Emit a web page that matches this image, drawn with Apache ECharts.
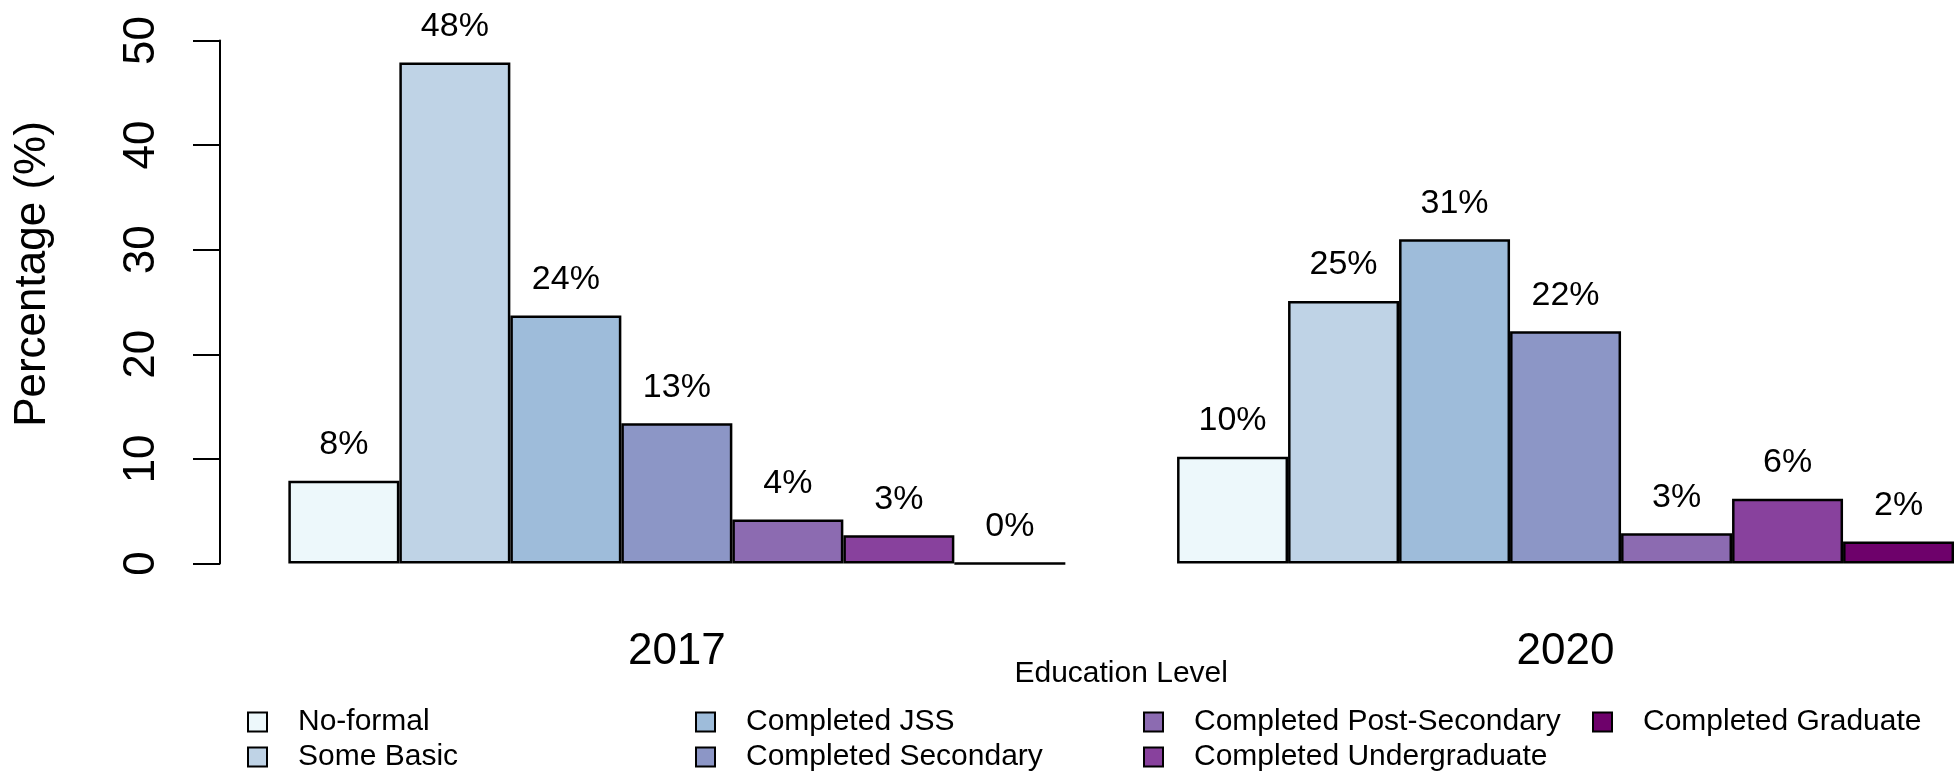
<!DOCTYPE html>
<html>
<head>
<meta charset="utf-8">
<script src="https://cdn.jsdelivr.net/npm/echarts@6/dist/echarts.min.js"></script>
<style>
html,body{margin:0;padding:0;background:#fff;}
#chart{width:1954px;height:777px;}
</style>
</head>
<body>
<div id="chart"></div>
<script>
// ---- data ----
const years = ['2017', '2020'];
const levels = ['No-formal', 'Some Basic', 'Completed JSS', 'Completed Secondary',
  'Completed Post-Secondary', 'Completed Undergraduate', 'Completed Graduate'];
const values2017 = [7.9, 47.9, 23.7, 13.4, 4.2, 2.7, 0];
const values2020 = [10.2, 25.1, 31.0, 22.2, 2.9, 6.2, 2.1];
const colors = ['#EDF8FB', '#BFD3E6', '#9EBCDA', '#8C96C6', '#8C6BB1', '#88419D', '#6E016B'];
const legendColumns = [
  ['No-formal', 'Some Basic'],
  ['Completed JSS', 'Completed Secondary'],
  ['Completed Post-Secondary', 'Completed Undergraduate'],
  ['Completed Graduate']
];
const yTitle = 'Percentage (%)';
const xTitle = 'Education Level';

const FONT = '"Liberation Sans", Arial, Helvetica, sans-serif';
const chart = echarts.init(document.getElementById('chart'), null, {renderer: 'canvas'});

const legendLefts = [247, 695, 1143, 1592];

const option = {
  backgroundColor: '#ffffff',
  animation: false,
  textStyle: {fontFamily: FONT, color: '#000'},
  grid: {left: 232.5, top: 40.5, width: 1777.4, bottom: 213.5, containLabel: false, outerBoundsMode: 'none'},
  legend: legendColumns.map((col, i) => ({
    data: col,
    orient: 'vertical',
    left: legendLefts[i],
    top: 704.5,
    height: 100,
    padding: 0,
    itemGap: 0,
    itemWidth: 19,
    itemHeight: 19,
    icon: 'rect',
    selectedMode: false,
    itemStyle: {borderColor: '#000', borderWidth: 2},
    textStyle: {fontFamily: FONT, fontSize: 30, color: '#000', lineHeight: 35, padding: [0, 0, 0, 26]}
  })),
  xAxis: {
    type: 'category',
    data: years,
    boundaryGap: true,
    name: xTitle,
    nameLocation: 'middle',
    nameGap: 95,
    nameMoveOverlap: false,
    nameTextStyle: {fontFamily: FONT, fontSize: 30, color: '#000'},
    axisLine: {show: false},
    axisTick: {show: false},
    axisLabel: {fontFamily: FONT, fontSize: 44, color: '#000', margin: 66},
    splitLine: {show: false}
  },
  yAxis: {
    type: 'value',
    min: 0,
    max: 50,
    interval: 10,
    offset: 12.5,
    name: yTitle,
    nameLocation: 'middle',
    nameRotate: 90,
    nameGap: 165,
    nameMoveOverlap: false,
    nameTextStyle: {fontFamily: FONT, fontSize: 44, color: '#000', padding: [0, 0, 0, 56]},
    axisLine: {show: true, lineStyle: {color: '#000', width: 2}},
    axisTick: {show: true, inside: false, length: 27, lineStyle: {color: '#000', width: 2}},
    axisLabel: {fontFamily: FONT, fontSize: 44, color: '#000', rotate: 90, margin: 56},
    splitLine: {show: false}
  },
  series: levels.map((name, i) => ({
    type: 'bar',
    name: name,
    data: [values2017[i], values2020[i]],
    barGap: '0%',
    barCategoryGap: '12.57%',
    itemStyle: {color: colors[i], borderColor: '#000', borderWidth: 2.5},
    label: {
      show: true,
      position: 'top',
      distance: 19,
      fontFamily: FONT,
      fontSize: 34,
      color: '#000',
      formatter: p => Math.round(p.value) + '%'
    }
  }))
};
chart.setOption(option);
</script>
</body>
</html>
